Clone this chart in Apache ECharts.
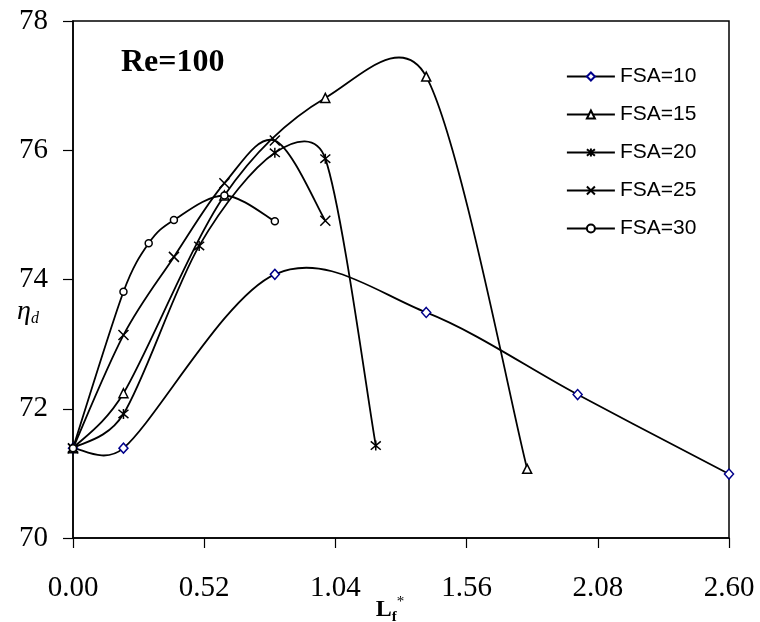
<!DOCTYPE html>
<html>
<head>
<meta charset="utf-8">
<script src="https://cdn.jsdelivr.net/npm/echarts@6/dist/echarts.min.js"></script>
<style>
  html, body { margin: 0; padding: 0; background: #ffffff; }
  #chart { width: 760px; height: 622px; }
</style>
</head>
<body>
<div id="chart"></div>
<script>
// Axis ticks
const xTickStep = 0.52;
const xMin = 0, xMax = 2.60;
const yMin = 70, yMax = 78, yTickStep = 2;

// Series: fin length L_f* vs efficiency eta_d, at Re = 100
const seriesNames = ['FSA=10', 'FSA=15', 'FSA=20', 'FSA=25', 'FSA=30'];

const fsa10X = [0, 0.2, 0.8, 1.4, 2.0, 2.6];
const fsa10Y = [71.39, 71.39, 74.08, 73.49, 72.22, 70.99];

const fsa15X = [0, 0.2, 0.6, 1.0, 1.4, 1.8];
const fsa15Y = [71.39, 72.24, 75.30, 76.81, 77.14, 71.07];

const fsa20X = [0, 0.2, 0.5, 0.8, 1.0, 1.2];
const fsa20Y = [71.39, 71.92, 74.52, 75.96, 75.87, 71.43];

const fsa25X = [0, 0.2, 0.4, 0.6, 0.8, 1.0];
const fsa25Y = [71.39, 73.14, 74.35, 75.49, 76.15, 74.91];

const fsa30X = [0, 0.2, 0.3, 0.4, 0.6, 0.8];
const fsa30Y = [71.39, 73.81, 74.56, 74.92, 75.30, 74.90];

const pair = (xs, ys) => xs.map((x, i) => [x, ys[i]]);

// Stroked marker shapes
const crossPath = 'path://M0,0L10,10M10,0L0,10';
const asteriskPath = 'path://M0,0L10,10M10,0L0,10M5,-1L5,11';

const serif = '"Liberation Serif", "Times New Roman", serif';
const sans = '"Liberation Sans", Arial, sans-serif';

const LINE_W = 1.8;

// Markers for each data set (the connecting curve is drawn separately)
function markerSeries(name, xs, ys, symbol, size, border, fill) {
  return {
    name: name,
    type: 'line',
    data: pair(xs, ys),
    symbol: symbol,
    symbolSize: size,
    showSymbol: true,
    lineStyle: { color: '#000', width: LINE_W, opacity: 0 },
    itemStyle: { color: fill, borderColor: border, borderWidth: 1.5 },
    emphasis: { disabled: true },
    silent: true,
    z: 3
  };
}

// Smoothed connecting curve: cubic Bezier segments through the projected
// points. Tangents come from the neighbouring points (1/6 factor), with each
// control arm capped at half of its segment's length.
function curveSeries(name, xs, ys) {
  const dist = (a, b) => Math.hypot(b[0] - a[0], b[1] - a[1]);
  return {
    name: name,
    type: 'custom',
    coordinateSystem: 'cartesian2d',
    data: [[xs[0], ys[0]]],
    silent: true,
    z: 2,
    renderItem: function (params, api) {
      const p = xs.map((x, i) => api.coord([x, ys[i]]));
      const n = p.length;
      const children = [];
      for (let i = 0; i < n - 1; i++) {
        const p0 = p[Math.max(i - 1, 0)];
        const p1 = p[i];
        const p2 = p[i + 1];
        const p3 = p[Math.min(i + 2, n - 1)];
        const d12 = dist(p1, p2);
        const d02 = dist(p0, p2);
        const d13 = dist(p1, p3);
        const f0 = d02 / 6 > d12 / 2 ? d12 / (2 * d02) : 1 / 6;
        const f1 = d13 / 6 > d12 / 2 ? d12 / (2 * d13) : 1 / 6;
        children.push({
          type: 'bezierCurve',
          shape: {
            x1: p1[0], y1: p1[1],
            x2: p2[0], y2: p2[1],
            cpx1: p1[0] + (p2[0] - p0[0]) * f0,
            cpy1: p1[1] + (p2[1] - p0[1]) * f0,
            cpx2: p2[0] - (p3[0] - p1[0]) * f1,
            cpy2: p2[1] - (p3[1] - p1[1]) * f1
          },
          style: { stroke: '#000', lineWidth: LINE_W, fill: null }
        });
      }
      return { type: 'group', children: children };
    }
  };
}

const chart = echarts.init(document.getElementById('chart'), null, { renderer: 'canvas' });

chart.setOption({
  animation: false,
  backgroundColor: '#ffffff',
  title: {
    text: 'Re=100',
    left: 121,
    top: 47,
    padding: 0,
    textStyle: { fontFamily: serif, fontWeight: 'bold', fontSize: 32, color: '#000' }
  },
  grid: {
    left: 73, right: 31, top: 21, bottom: 84,
    outerBoundsMode: 'none',
    containLabel: false,
    show: true, borderColor: '#000', borderWidth: 1.5, backgroundColor: 'transparent'
  },
  legend: {
    orient: 'vertical',
    left: 566,
    top: 66,
    padding: 0,
    itemWidth: 48,
    itemHeight: 10,
    itemGap: 17,
    data: seriesNames,
    lineStyle: { color: '#000', width: LINE_W, opacity: 1 },
    textStyle: { fontFamily: sans, fontSize: 21, color: '#000' },
    selectedMode: false
  },
  xAxis: {
    type: 'value',
    min: xMin, max: xMax, interval: xTickStep,
    name: '{L|L}{f|f}{s|*}',
    nameLocation: 'middle',
    nameGap: 57,
    nameMoveOverlap: false,
    nameTextStyle: {
      padding: [0, 22, 0, 0],
      rich: {
        L: { fontFamily: serif, fontWeight: 'bold', fontSize: 24, color: '#000', lineHeight: 30 },
        f: { fontFamily: serif, fontWeight: 'bold', fontSize: 15, color: '#000', verticalAlign: 'bottom', lineHeight: 30 },
        s: { fontFamily: serif, fontSize: 15, color: '#000', verticalAlign: 'top', lineHeight: 30 }
      }
    },
    axisLine: { lineStyle: { color: '#000', width: 1.5 } },
    axisTick: { inside: false, length: 10, lineStyle: { color: '#000', width: 1.2 } },
    axisLabel: {
      margin: 36,
      fontFamily: serif, fontSize: 29, color: '#000',
      formatter: v => v.toFixed(2)
    },
    splitLine: { show: false }
  },
  yAxis: {
    type: 'value',
    min: yMin, max: yMax, interval: yTickStep,
    name: '{e|η}{d|d}',
    nameLocation: 'middle',
    nameRotate: 0,
    nameGap: 34,
    nameMoveOverlap: false,
    nameTextStyle: {
      padding: [64, 0, 0, 0],
      rich: {
        e: { fontFamily: serif, fontStyle: 'italic', fontSize: 28, color: '#000', lineHeight: 30 },
        d: { fontFamily: serif, fontStyle: 'italic', fontSize: 16, color: '#000', verticalAlign: 'bottom', lineHeight: 30 }
      }
    },
    axisLine: { show: true, lineStyle: { color: '#000', width: 1.5 } },
    axisTick: { show: true, inside: false, length: 10, lineStyle: { color: '#000', width: 1.2 } },
    axisLabel: {
      margin: 25,
      fontFamily: serif, fontSize: 29, color: '#000'
    },
    splitLine: { show: false }
  },
  series: [
    curveSeries('curve 10', fsa10X, fsa10Y),
    curveSeries('curve 15', fsa15X, fsa15Y),
    curveSeries('curve 20', fsa20X, fsa20Y),
    curveSeries('curve 25', fsa25X, fsa25Y),
    curveSeries('curve 30', fsa30X, fsa30Y),
    markerSeries(seriesNames[0], fsa10X, fsa10Y, 'diamond', [9, 10], '#00008b', '#ffffff'),
    markerSeries(seriesNames[1], fsa15X, fsa15Y, 'triangle', 9, '#000', '#ffffff'),
    markerSeries(seriesNames[2], fsa20X, fsa20Y, asteriskPath, 10, '#000', '#000'),
    markerSeries(seriesNames[3], fsa25X, fsa25Y, crossPath, 10, '#000', '#000'),
    markerSeries(seriesNames[4], fsa30X, fsa30Y, 'circle', 7, '#000', '#ffffff')
  ]
});
</script>
</body>
</html>
